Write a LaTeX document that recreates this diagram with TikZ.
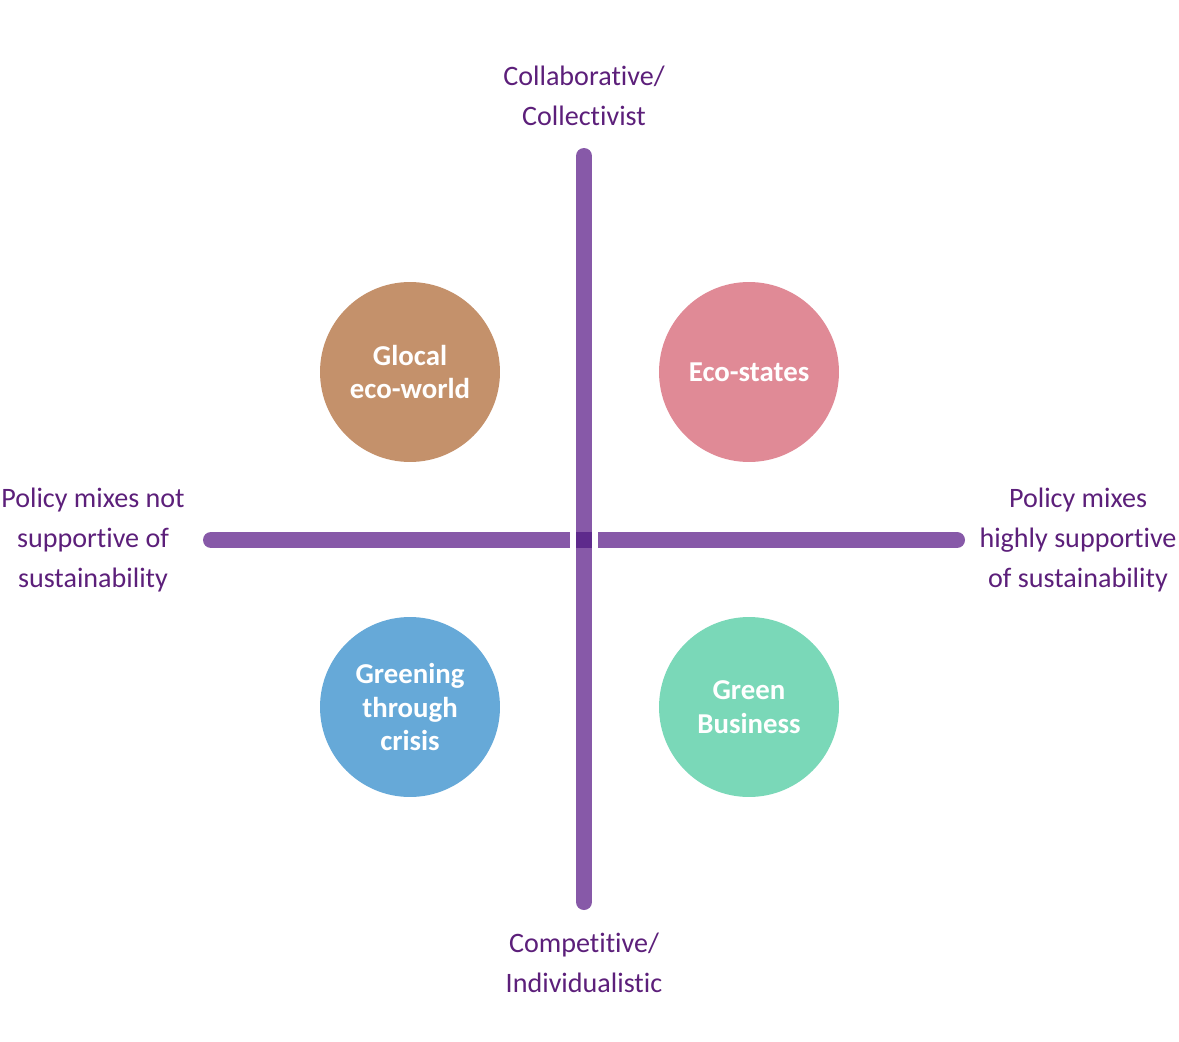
\documentclass[tikz,border=0pt]{standalone}
\usepackage{fontspec}
\setmainfont{Carlito}[Ligatures=NoCommon]
\usepackage{xcolor}
\definecolor{axispurple}{HTML}{8759A8}
\definecolor{crosspurple}{HTML}{5E2A8C}
\definecolor{labelpurple}{HTML}{5C1F7A}
\definecolor{glocalbrown}{HTML}{C4916B}
\definecolor{ecopink}{HTML}{E08A96}
\definecolor{greeningblue}{HTML}{66A9D8}
\definecolor{businessgreen}{HTML}{7AD8B8}
\usetikzlibrary{positioning}

\begin{document}
\begin{tikzpicture}[x=0.02cm,y=-0.02cm,
	axisline/.style={line width=0.32cm, axispurple, line cap=round},
	axislabel/.style={align=center, text=labelpurple, font=\fontsize{16}{22.7}\selectfont, inner sep=0pt},
	scenario/.style={circle, minimum size=3.6cm, inner sep=0pt, align=center, text=white, font=\bfseries\fontsize{16.4}{19.3}\selectfont}]
	\useasboundingbox (0,0) rectangle (1179,1041);
	
	% axis end points
	\coordinate (west) at (211,540);
	\coordinate (east) at (957,540);
	\coordinate (north) at (584,156);
	\coordinate (south) at (584,902);
	
	% draw axes
	\draw[axisline] (west) -- (east);
	\fill[white] (570,531) rectangle (598,549);
	\draw[axisline] (north) -- (south);
	\fill[crosspurple] (576,532) rectangle (592,548);
	
	% draw axis labels
	\node[axislabel] (collab) at (584,96) {Collaborative/\\Collectivist};
	\node[axislabel] (compet) at (584,963) {Competitive/\\Individualistic};
	\node[axislabel] (notsupp) at (93,540) {Policy mixes not\\supportive of\\sustainability};
	\node[axislabel] (highsupp) at (1078,540) {Policy mixes\\highly supportive\\of sustainability};
	
	% draw scenarios
	\node[scenario, fill=glocalbrown] (glocal) at (410,372) {Glocal\\eco-world};
	\node[scenario, fill=ecopink] (ecostates) at (749,372) {Eco-states};
	\node[scenario, fill=greeningblue] (greening) at (410,707) {Greening\\through\\crisis};
	\node[scenario, fill=businessgreen] (business) at (749,707) {Green\\Business};
\end{tikzpicture}
\end{document}
